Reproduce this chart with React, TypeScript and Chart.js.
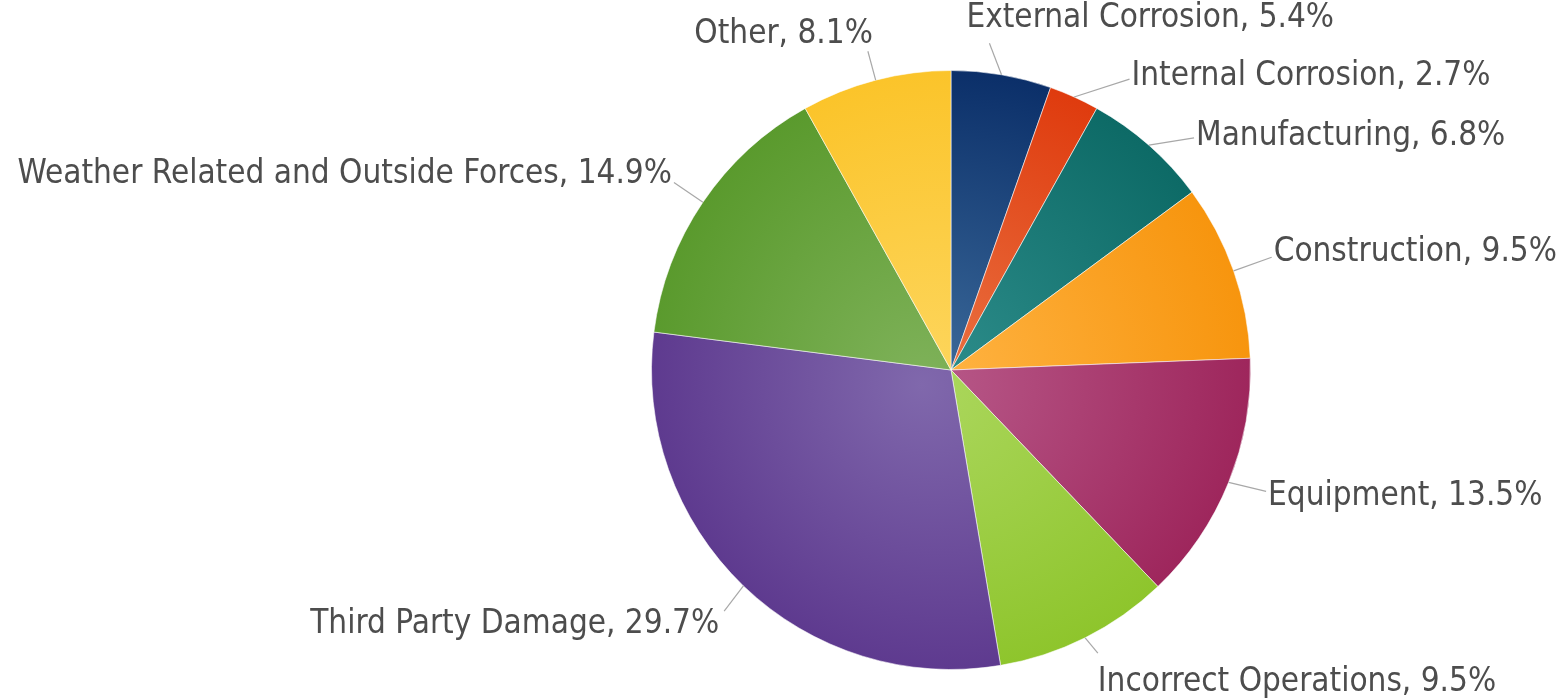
import React, { useEffect, useRef } from "react";
import { Chart, registerables } from "chart.js";

Chart.register(...registerables);

const categories = [
  "External Corrosion",
  "Internal Corrosion",
  "Manufacturing",
  "Construction",
  "Equipment",
  "Incorrect Operations",
  "Third Party Damage",
  "Weather Related and Outside Forces",
  "Other",
];

const percentValues = [5.4, 2.7, 6.8, 9.5, 13.5, 9.5, 29.7, 14.9, 8.1];

const baseColors = [
  "#0b2f69",
  "#df3b0e",
  "#0d6a66",
  "#f7950e",
  "#9e265c",
  "#8ec52c",
  "#5e3a8f",
  "#5a9a2d",
  "#fbc42a",
];

const lightColors = [
  "#3d6c9c",
  "#ea7444",
  "#2f8f8d",
  "#ffb545",
  "#b85a8a",
  "#acd75e",
  "#8068ac",
  "#7fb25a",
  "#fdd65e",
];

// label layout tweaks (pixels), relative to the radial leader-line end
const anchorNudges = [
  [-18, 3],
  [41, 14],
  [22, 19],
  [5, -2],
  [5, -4],
  [-3, -16],
  [5, 0],
  [0, 0],
  [1, 5],
];
const textNudges = [
  [-25, -25],
  [0, -3],
  [0, -2],
  [0, -5],
  [0, 5],
  [-2, 29],
  [-3, 13],
  [0, -8],
  [7, -17],
];

const LABEL_FONT = '33px "DejaVu Sans Condensed", "DejaVu Sans", sans-serif';

const labelPlugin = {
  id: "outsideLabels",
  afterDatasetsDraw(chart: any) {
    const ctx = chart.ctx;
    const meta = chart.getDatasetMeta(0);
    ctx.save();
    meta.data.forEach((arc: any, i: number) => {
      const p = arc.getProps(["x", "y", "startAngle", "endAngle", "outerRadius"], true);
      const a = (p.startAngle + p.endAngle) / 2;
      const cos = Math.cos(a);
      const sin = Math.sin(a);
      const ex = p.x + p.outerRadius * cos;
      const ey = p.y + p.outerRadius * sin;
      const ax = p.x + (p.outerRadius + 35) * cos + anchorNudges[i][0];
      const ay = p.y + (p.outerRadius + 35) * sin + anchorNudges[i][1];
      ctx.strokeStyle = "#a8a8a8";
      ctx.lineWidth = 1.2;
      ctx.beginPath();
      ctx.moveTo(ex, ey);
      ctx.lineTo(ax, ay);
      ctx.stroke();
      const right = cos >= 0;
      const text = `${categories[i]}, ${percentValues[i].toFixed(1)}%`;
      ctx.font = LABEL_FONT;
      ctx.fillStyle = "#4d4d4d";
      ctx.textBaseline = "middle";
      ctx.textAlign = right ? "left" : "right";
      const tx = (right ? ax + 2 : ax - 2) + textNudges[i][0];
      const ty = ay + textNudges[i][1];
      ctx.fillText(text, tx, ty);
    });
    ctx.restore();
  },
};

export default function App() {
  const canvasRef = useRef<HTMLCanvasElement | null>(null);

  useEffect(() => {
    document.body.style.margin = "0";
    const canvas = canvasRef.current;
    if (!canvas) return;
    const chart = new Chart(canvas, {
      type: "pie",
      data: {
        labels: categories,
        datasets: [
          {
            data: percentValues,
            backgroundColor: (c: any) => {
              const i = c.dataIndex;
              const ch = c.chart;
              const area = ch.chartArea;
              if (!area) return baseColors[i];
              const cx = (area.left + area.right) / 2;
              const cy = (area.top + area.bottom) / 2;
              const r = Math.min(area.right - area.left, area.bottom - area.top) / 2;
              const g = ch.ctx.createRadialGradient(cx - r * 0.1, cy + r * 0.05, 0, cx, cy, r);
              g.addColorStop(0, lightColors[i]);
              g.addColorStop(1, baseColors[i]);
              return g;
            },
            borderColor: "rgba(255,255,255,0.55)",
            borderWidth: 1,
          },
        ],
      },
      options: {
        animation: false,
        responsive: false,
        maintainAspectRatio: false,
        layout: { padding: { left: 651, right: 311, top: 70, bottom: 30 } },
        plugins: {
          legend: { display: false },
          tooltip: { enabled: false },
        },
      },
      plugins: [labelPlugin],
    });
    return () => chart.destroy();
  }, []);

  return (
    <div style={{ position: "relative", width: 1562, height: 700, background: "#ffffff" }}>
      <canvas ref={canvasRef} width={1562} height={700} style={{ display: "block" }} />
    </div>
  );
}
